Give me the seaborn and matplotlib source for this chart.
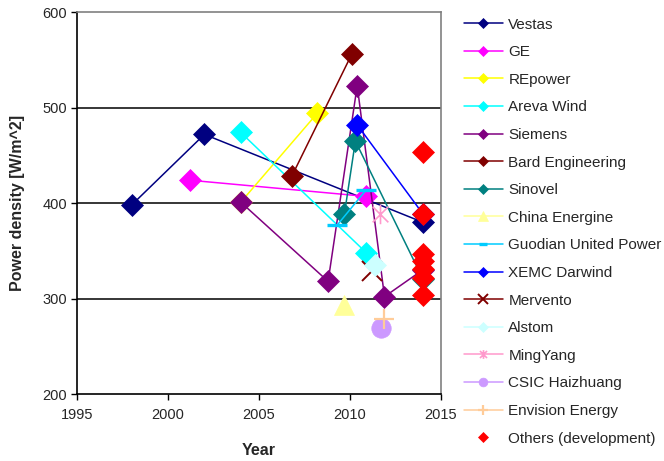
import matplotlib
matplotlib.use("Agg")
import matplotlib.pyplot as plt
from matplotlib.path import Path
import seaborn as sns

# Turbine makers: year of introduction vs. rotor power density [W/m^2]
makers = ["Vestas", "GE", "REpower", "Areva Wind", "Siemens", "Bard Engineering",
          "Sinovel", "China Energine", "Guodian United Power", "XEMC Darwind",
          "Mervento", "Alstom", "MingYang", "CSIC Haizhuang", "Envision Energy",
          "Others (development)"]

vestas_year = [1998, 2002, 2014]
vestas_pd = [398, 472, 380]
ge_year = [2001.2, 2010.9]
ge_pd = [424, 407]
repower_year = [2004, 2008.2]
repower_pd = [401, 494]
areva_year = [2004, 2010.9]
areva_pd = [474, 348]
siemens_year = [2004, 2008.8, 2010.4, 2011.9, 2014]
siemens_pd = [401, 318, 523, 302, 330]
bard_year = [2006.8, 2010.1]
bard_pd = [428, 556]
sinovel_year = [2009.7, 2010.3, 2014]
sinovel_pd = [389, 465, 321]
energine_year = [2009.7]
energine_pd = [293]
guodian_year = [2009.3, 2010.9]
guodian_pd = [377, 414]
xemc_year = [2010.4, 2014]
xemc_pd = [482, 389]
mervento_year = [2011.2]
mervento_pd = [329]
alstom_year = [2011.4]
alstom_pd = [335]
mingyang_year = [2011.65]
mingyang_pd = [389]
csic_year = [2011.7]
csic_pd = [269]
envision_year = [2011.9]
envision_pd = [279]
others_year = [2014, 2014, 2014, 2014, 2014, 2014, 2014]
others_pd = [454, 389, 347, 339, 331, 322, 304]

x_ticks = [1995, 2000, 2005, 2010, 2015]
y_ticks = [200, 300, 400, 500, 600]

# asterisk marker: an X with a vertical bar through it
asterisk = Path([(-0.5, -0.5), (0.5, 0.5), (-0.5, 0.5), (0.5, -0.5), (0, -0.62), (0, 0.62)],
                [Path.MOVETO, Path.LINETO, Path.MOVETO, Path.LINETO, Path.MOVETO, Path.LINETO])

series = [
    (vestas_year, vestas_pd, "#000080", "D", 11, "-"),
    (ge_year, ge_pd, "#FF00FF", "D", 11, "-"),
    (repower_year, repower_pd, "#FFFF00", "D", 11, "-"),
    (areva_year, areva_pd, "#00FFFF", "D", 11, "-"),
    (siemens_year, siemens_pd, "#800080", "D", 11, "-"),
    (bard_year, bard_pd, "#800000", "D", 11, "-"),
    (sinovel_year, sinovel_pd, "#008080", "D", 11, "-"),
    (energine_year, energine_pd, "#FFFF99", "^", 15, "-"),
    (guodian_year, guodian_pd, "#00CCFF", "_", 14, "-"),
    (xemc_year, xemc_pd, "#0000FF", "D", 11, "-"),
    (mervento_year, mervento_pd, "#800000", "x", 15, "-"),
    (alstom_year, alstom_pd, "#CCFFFF", "D", 11, "-"),
    (mingyang_year, mingyang_pd, "#FF99CC", asterisk, 14, "-"),
    (csic_year, csic_pd, "#CC99FF", "o", 14, "-"),
    (envision_year, envision_pd, "#FFCC99", "+", 15, "-"),
    (others_year, others_pd, "#FF0000", "D", 11, ""),
]

sns.set_style("white")
plt.rcParams["font.family"] = ["Liberation Sans", "DejaVu Sans"]

fig = plt.figure(figsize=(6.64, 4.61), dpi=100)
ax = fig.add_axes([0.116, 0.1453, 0.548, 0.8282])

edge_widths = {"_": 2.4, "+": 1.6, "x": 1.4}
for name, (xs, ys, col, mk, ms, ls) in zip(makers, series):
    if mk is asterisk:
        mew = 1.2
    else:
        mew = edge_widths.get(mk, 0.5)
    sns.lineplot(x=xs, y=ys, ax=ax, sort=False, estimator=None, color=col,
                 marker=mk, markersize=ms, markeredgecolor=col, markerfacecolor=col,
                 markeredgewidth=mew, linewidth=1.1, linestyle=ls, label=name)

ax.set_xlim(1995, 2015)
ax.set_ylim(200, 600)
ax.set_xticks(x_ticks)
ax.set_yticks(y_ticks)
ax.tick_params(axis="both", which="major", direction="out", length=4, width=1,
               color="black", labelsize=10.5, bottom=True, left=True)
ax.tick_params(axis="x", pad=6)
ax.tick_params(axis="y", pad=3)

for y in [300, 400, 500]:
    ax.axhline(y, color="black", linewidth=1.1, zorder=0.5)

ax.spines["left"].set_color("black")
ax.spines["bottom"].set_color("black")
ax.spines["top"].set_color("#808080")
ax.spines["right"].set_color("#808080")
for sp in ax.spines.values():
    sp.set_linewidth(1.2)

ax.set_xlabel("Year", fontsize=11.5, fontweight="bold")
ax.set_ylabel("Power density [W/m^2]", fontsize=11.5, fontweight="bold")
ax.xaxis.set_label_coords(0.5, -0.128)
ax.yaxis.set_label_coords(-0.143, 0.5)

handles, labels = ax.get_legend_handles_labels()
ax.legend(handles, labels, loc="upper left", bbox_to_anchor=(0.682, 0.985),
          bbox_transform=fig.transFigure, frameon=False, fontsize=11,
          markerscale=0.45, handlelength=2.6, handletextpad=0.33,
          labelspacing=0.89, borderaxespad=0.3)

fig.savefig("out.png", dpi=100)
